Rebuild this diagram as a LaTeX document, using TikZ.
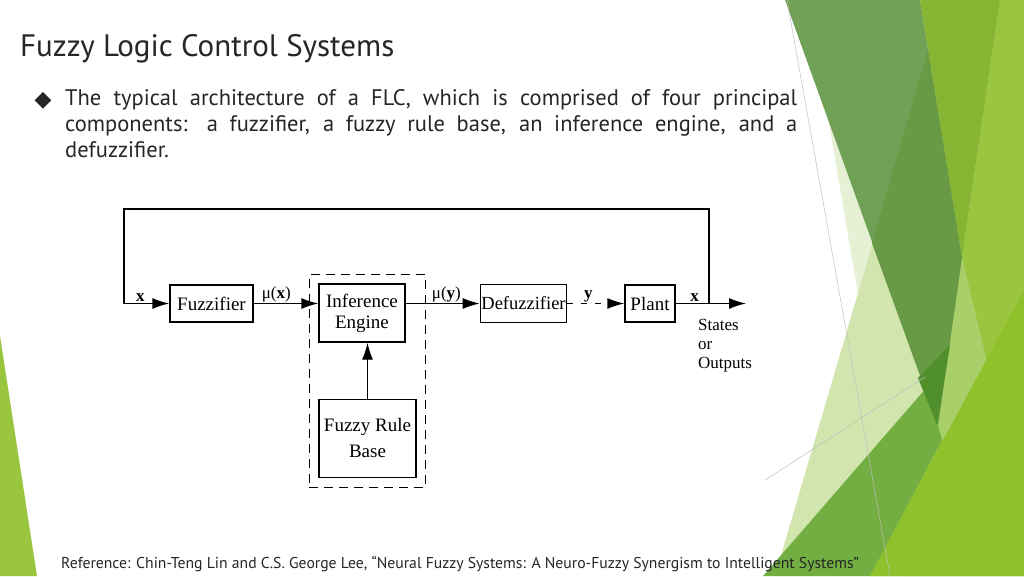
\documentclass[tikz,border=0pt]{standalone}
\usepackage{fontspec}
\setmainfont{Liberation Serif}
\newfontfamily\slidefont{PT Sans}
\newfontfamily\symfont{DejaVu Sans}
\usetikzlibrary{arrows.meta, positioning, fit, backgrounds}
\definecolor{slidetext}{RGB}{38,38,38}
\definecolor{facetpale}{RGB}{229,240,212}
\definecolor{facetlight}{RGB}{210,229,174}
\definecolor{facetdark}{RGB}{113,161,86}
\definecolor{facetdeep}{RGB}{104,153,68}
\definecolor{facetdarkest}{RGB}{80,143,43}
\definecolor{facetolive}{RGB}{134,180,51}
\definecolor{facetlime}{RGB}{154,198,63}
\definecolor{facetlimelight}{RGB}{168,207,106}
\definecolor{facetgrass}{RGB}{142,193,44}
\definecolor{facetmid}{RGB}{114,174,66}

\begin{document}
\begin{tikzpicture}[x=1pt, y=-1pt, node distance=1cm, auto]
\tikzstyle{block} = [rectangle, draw, line width=1.4pt, inner sep=2pt,
    font=\fontsize{19}{21}\selectfont, align=center]
\tikzstyle{line} = [draw, line width=1.4pt, -{Latex[length=17pt,width=11pt]}]
\tikzstyle{lbl} = [font=\fontsize{17}{18}\selectfont, inner sep=1pt]
\tikzstyle{hairline} = [draw=black!25, line width=0.5pt]

    % slide background
    \useasboundingbox (0,0) rectangle (1024,576);
    \fill[white] (0,0) rectangle (1024,576);

    % facet shapes
    \fill[facetpale] (808,0) -- (1024,0) -- (1024,576) -- (906,576) -- cycle;
    \fill[facetlight] (944,0) -- (1024,0) -- (1024,576) -- (775,576) -- cycle;
    \fill[facetlime] (1000,0) -- (1024,0) -- (1024,576) -- (870,576) -- (938,425) -- (962,257) -- cycle;
    \fill[facetmid] (940,372) -- (763,576) -- (870,576) -- (942,440) -- cycle;
    \fill[facetlimelight] (962,257) -- (990,375) -- (942,440) -- (938,425) -- cycle;
    \fill[facetgrass] (1024,290) -- (1024,576) -- (870,576) -- cycle;
    \fill[facetdark] (785,0) -- (920,0) -- (962,257) -- (938,425) -- cycle;
    \fill[facetdeep] (928,50) -- (962,257) -- (938,425) -- (872,243) -- cycle;
    \fill[facetdarkest] (950,345) -- (918,378) -- (937,425) -- cycle;
    \fill[facetolive] (920,0) -- (1000,0) -- (962,257) -- cycle;
    \fill[facetlime] (0,336) -- (37,576) -- (0,576) -- cycle;
    \path[hairline] (787,0) -- (890,576);
    \path[hairline] (765,480) -- (925,377);

    % title and text
    \node[anchor=base west, inner sep=0pt, text=slidetext,
        font=\slidefont\fontsize{31}{36}\selectfont] (title) at (20,56) {Fuzzy Logic Control Systems};
    \node[inner sep=0pt, text=slidetext, font=\symfont\fontsize{22}{24}\selectfont] (mark) at (43,101) {◆};
    \node[anchor=north west, inner sep=0pt, text width=732pt, align=justify, text=slidetext,
        font=\slidefont\fontsize{22.5}{26}\selectfont] (intro) at (65,89)
        {The typical architecture of a FLC, which is comprised of four principal\linebreak
         components: a fuzzifier, a fuzzy rule base, an inference engine, and a\linebreak
         defuzzifier.};
    \node[anchor=base west, inner sep=0pt, text=slidetext,
        font=\slidefont\fontsize{15.7}{18}\selectfont] (source) at (61,568)
        {Reference: Chin-Teng Lin and C.S. George Lee, “Neural Fuzzy Systems: A Neuro-Fuzzy Synergism to Intelligent Systems”};

    % Place nodes
    \node [block, minimum width=83pt, minimum height=37pt] (fuzz) at (211.5,303.5) {Fuzzifier};
    \node [block, minimum width=86pt, minimum height=58pt] (infer) at (362,313) {Inference\\Engine};
    \node [block, minimum width=97pt, minimum height=78pt, below=56pt of infer, xshift=5.5pt,
        font=\fontsize{19}{26}\selectfont] (rules) {Fuzzy Rule\\Base};
    \node [block, minimum width=85pt, minimum height=38pt, inner sep=1pt,
        font=\fontsize{18.5}{21}\selectfont] (defuzz) at (523.5,303.5) {Defuzzifier};
    \node [block, minimum width=50pt, minimum height=37pt, right=57pt of defuzz] (plant) {Plant};
    \node [draw, dash pattern=on 9pt off 6pt, line width=1.2pt, inner sep=9pt, fit=(infer)(rules)] (frame) {};
    \node [anchor=north west, align=left, inner sep=0pt, font=\fontsize{17}{19}\selectfont] (outs) at (698,319) {States\\or\\Outputs};
    \coordinate (tap) at (709,303.5);
    \coordinate (out) at (746,303.5);
    \coordinate (loop) at (124,209);

%paths
    \path [line] (fuzz.east) -- node[lbl, pos=0.35] {μ(\textbf{x})} (fuzz.east -| infer.west);
    \path [line] (fuzz.east -| infer.east) -- node[lbl, pos=0.55] {μ(\textbf{y})} (defuzz.west);
    \path [line, dash pattern=on 6pt off 8pt] (defuzz.east) -- node[lbl, pos=0.37] {\textbf{y}} (plant.west);
    \path [line] (plant.east) -- node[lbl, pos=0.27] {\textbf{x}} (out);
    \path [line] (tap) |- (loop) |- node[lbl, pos=0.68] {\textbf{x}} (fuzz.west);
    \path [line] (rules) -- (rules |- infer.south);

\end{tikzpicture}
\end{document}
